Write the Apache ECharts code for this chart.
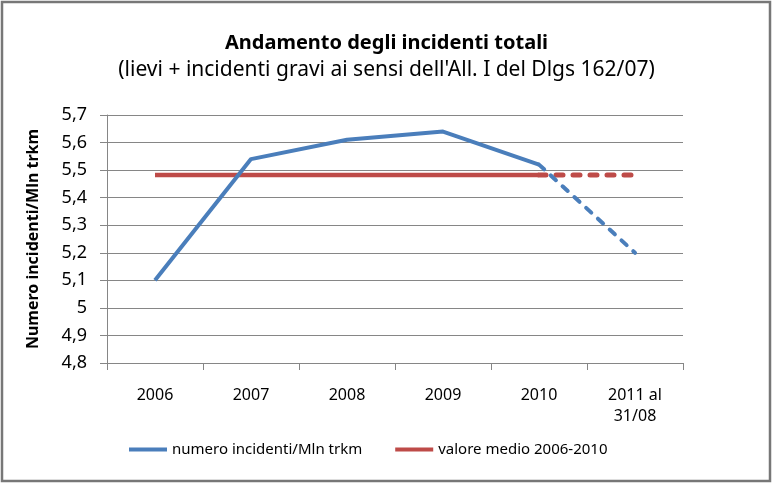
<!DOCTYPE html>
<html>
<head>
<meta charset="utf-8">
<script src="https://cdn.jsdelivr.net/npm/echarts@6/dist/echarts.min.js"></script>
<style>
html,body{margin:0;padding:0;background:#fff;}
#c{width:773px;height:484px;}
</style>
</head>
<body>
<div id="c"></div>
<script>
var categories = ['2006', '2007', '2008', '2009', '2010', '2011 al\n31/08'];
var incidentiSolid = [5.10, 5.54, 5.61, 5.64, 5.52, null];
var incidentiDashed = [null, null, null, null, 5.52, 5.20];
var medioSolid = [5.482, 5.482, 5.482, 5.482, 5.482, null];
var medioDashed = [null, null, null, null, 5.482, 5.482];
var seriesNames = ['numero incidenti/Mln trkm', 'valore medio 2006-2010'];
var yTicks = {min: 4.8, max: 5.7, interval: 0.1};

var FONT = '"Noto Sans", Lato, sans-serif';
var BLUE = '#4A7EBB', RED = '#BE4B48';

var chart = echarts.init(document.getElementById('c'), null, {renderer: 'canvas'});
chart.setOption({
  animation: false,
  backgroundColor: '#fff',
  title: [{
    text: 'Andamento degli incidenti totali',
    left: 'center', top: 28,
    textStyle: {fontFamily: FONT, fontSize: 20, fontWeight: 'bold', color: '#000'}
  }, {
    text: "(lievi + incidenti gravi ai sensi dell'All. I del Dlgs 162/07)",
    left: 'center', top: 55,
    textStyle: {fontFamily: FONT, fontSize: 21, fontWeight: 'normal', color: '#000'}
  }],
  graphic: [{
    type: 'rect', silent: true,
    shape: {x: 2, y: 2, width: 768, height: 479},
    style: {fill: 'none', stroke: '#777', lineWidth: 2.5}
  }],
  legend: {
    data: seriesNames,
    bottom: 22,
    left: 124,
    icon: 'rect',
    itemWidth: 38, itemHeight: 4,
    itemGap: 33,
    textStyle: {fontFamily: FONT, fontSize: 15, color: '#000'}
  },
  grid: {left: 107, right: 90, top: 115, bottom: 121, containLabel: false},
  xAxis: {
    type: 'category',
    data: categories,
    boundaryGap: true,
    axisLine: {lineStyle: {color: '#868686', width: 1}},
    axisTick: {show: true, length: 7, lineStyle: {color: '#868686'}},
    axisLabel: {fontFamily: FONT, fontSize: 16, color: '#000', margin: 22, lineHeight: 21, interval: 0}
  },
  yAxis: {
    type: 'value',
    min: yTicks.min, max: yTicks.max, interval: yTicks.interval,
    name: 'Numero incidenti/Mln trkm',
    nameLocation: 'middle',
    nameGap: 66,
    nameRotate: 90,
    nameTextStyle: {fontFamily: FONT, fontSize: 16, fontWeight: 'bold', color: '#000'},
    axisLine: {show: true, lineStyle: {color: '#868686', width: 1}},
    axisTick: {show: true, length: 7, inside: false, lineStyle: {color: '#868686'}},
    splitLine: {show: true, lineStyle: {color: '#868686', width: 1}},
    axisLabel: {
      fontFamily: FONT, fontSize: 18, color: '#000', margin: 20,
      formatter: function (v) { return (Math.round(v * 10) / 10).toString().replace('.', ','); }
    }
  },
  series: [{
    name: seriesNames[1], type: 'line', data: medioSolid,
    symbol: 'none', connectNulls: false, z: 2,
    itemStyle: {color: RED},
    lineStyle: {color: RED, width: 4.5, cap: 'butt'}
  }, {
    name: seriesNames[1], type: 'line', data: medioDashed,
    symbol: 'none', z: 2,
    itemStyle: {color: RED},
    lineStyle: {color: RED, width: 5, type: [7, 10], cap: 'round'}
  }, {
    name: seriesNames[0], type: 'line', data: incidentiSolid,
    symbol: 'none', z: 3,
    itemStyle: {color: BLUE},
    lineStyle: {color: BLUE, width: 4, join: 'round'}
  }, {
    name: seriesNames[0], type: 'line', data: incidentiDashed,
    symbol: 'none', z: 3,
    itemStyle: {color: BLUE},
    lineStyle: {color: BLUE, width: 4, type: [7, 9], cap: 'round'}
  }]
});
</script>
</body>
</html>
